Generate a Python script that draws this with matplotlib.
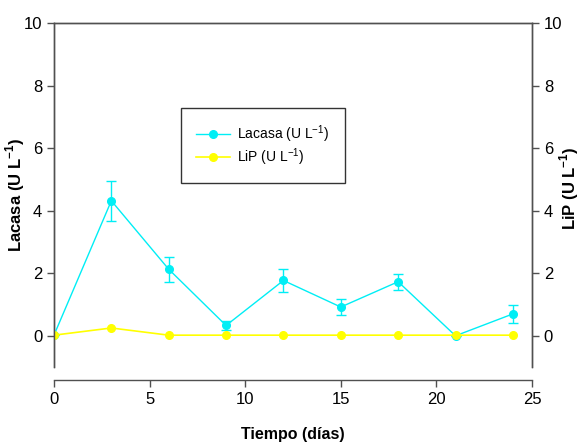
import matplotlib
matplotlib.use("Agg")
import matplotlib.pyplot as plt

plt.rcParams['font.family'] = ['Liberation Sans', 'DejaVu Sans']

dias = [0, 3, 6, 9, 12, 15, 18, 21, 24]
lacasa = [0.02, 4.32, 2.13, 0.33, 1.77, 0.92, 1.73, 0.0, 0.70]
lacasa_err = [0.0, 0.64, 0.40, 0.15, 0.36, 0.25, 0.25, 0.0, 0.28]
lip = [0.02, 0.25, 0.02, 0.02, 0.02, 0.02, 0.02, 0.02, 0.02]

x_ticks = [0, 5, 10, 15, 20, 25]
y_ticks = [0, 2, 4, 6, 8, 10]

cyan = '#00EEF5'
yellow = '#FFFF00'
spine_c = '#505050'

fig = plt.figure(figsize=(5.83, 4.46), dpi=100)
ax = fig.add_axes([0.0926, 0.177, 0.8199, 0.771])

ax.errorbar(dias, lacasa, yerr=lacasa_err, fmt='none', ecolor=cyan,
            capsize=3.5, elinewidth=1.0, capthick=1.0, zorder=3)
l1, = ax.plot(dias, lacasa, color=cyan, marker='o', ms=5.5, lw=1.0,
              label='Lacasa (U L$^{\\mathregular{-1}}$)', zorder=4)
l2, = ax.plot(dias, lip, color=yellow, marker='o', ms=5.5, lw=1.2,
              label='LiP (U L$^{\\mathregular{-1}}$)', zorder=5)

ax.set_xlim(0, 25)
ax.set_ylim(-1, 10)
ax.set_xticks(x_ticks)
ax.set_yticks(y_ticks)

ax2 = ax.twinx()
ax2.set_ylim(-1, 10)
ax2.set_yticks(y_ticks)

for a in (ax, ax2):
    for s in a.spines.values():
        s.set_color(spine_c)
        s.set_linewidth(1.0)
    a.tick_params(colors=spine_c, labelcolor='black', labelsize=12,
                  direction='out', length=5, width=1.0)
ax.spines['bottom'].set_position(('outward', 9))
ax2.spines['bottom'].set_visible(False)
ax.tick_params(axis='x', pad=4)

ax.set_xlabel('Tiempo (días)', fontsize=11.5, fontweight='bold')
ax.xaxis.set_label_coords(0.5, -0.175)
ax.set_ylabel('Lacasa (U L$^{\\mathregular{-1}}$)', fontsize=12, fontweight='bold')
ax.yaxis.set_label_coords(-0.056, 0.5)
ax2.set_ylabel('LiP (U L$^{\\mathregular{-1}}$)', fontsize=12, fontweight='bold',
               rotation=90)
ax2.yaxis.set_label_coords(1.054, 0.52)

leg = ax.legend(handles=[l1, l2], loc='upper left', bbox_to_anchor=(0.266, 0.753),
                fontsize=10, frameon=True, fancybox=False, borderpad=1.1,
                handlelength=2.4, handletextpad=0.55, labelspacing=0.1,
                borderaxespad=0)
leg.get_frame().set_edgecolor('black')
leg.get_frame().set_linewidth(1.0)

fig.savefig('out.png', dpi=100)
